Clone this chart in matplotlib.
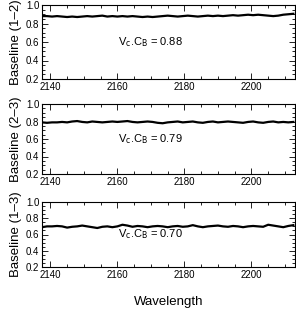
import matplotlib
matplotlib.use("Agg")
import matplotlib.pyplot as plt
import numpy as np
from matplotlib.ticker import MultipleLocator

plt.rcParams['font.family'] = ['Liberation Sans', 'DejaVu Sans']

# wavelength grid and the three baseline visibilities
wavelength = np.arange(2137.5, 2213.6, 1.5)

vis_12 = [0.88, 0.88, 0.875, 0.88, 0.875, 0.87, 0.875, 0.87, 0.875, 0.88,
          0.875, 0.88, 0.885, 0.875, 0.88, 0.875, 0.88, 0.875, 0.88, 0.875,
          0.87, 0.875, 0.87, 0.875, 0.88, 0.885, 0.88, 0.875, 0.88, 0.885,
          0.88, 0.875, 0.88, 0.885, 0.88, 0.885, 0.88, 0.885, 0.89, 0.885,
          0.89, 0.895, 0.89, 0.895, 0.89, 0.885, 0.88, 0.885, 0.895, 0.9, 0.905]

vis_23 = [0.79, 0.785, 0.79, 0.79, 0.795, 0.79, 0.8, 0.805, 0.795, 0.79,
          0.8, 0.795, 0.79, 0.795, 0.8, 0.795, 0.8, 0.805, 0.795, 0.79,
          0.795, 0.8, 0.795, 0.785, 0.78, 0.79, 0.795, 0.8, 0.79, 0.795,
          0.8, 0.79, 0.785, 0.795, 0.8, 0.79, 0.795, 0.8, 0.795, 0.79,
          0.785, 0.795, 0.8, 0.79, 0.785, 0.795, 0.8, 0.79, 0.795, 0.79, 0.795]

vis_13 = [0.69, 0.7, 0.7, 0.705, 0.7, 0.685, 0.695, 0.7, 0.71, 0.7,
          0.69, 0.68, 0.695, 0.7, 0.69, 0.7, 0.72, 0.71, 0.695, 0.705,
          0.7, 0.69, 0.7, 0.705, 0.7, 0.69, 0.7, 0.705, 0.695, 0.7,
          0.715, 0.7, 0.69, 0.7, 0.705, 0.71, 0.7, 0.695, 0.705, 0.7,
          0.69, 0.7, 0.705, 0.7, 0.695, 0.72, 0.71, 0.7, 0.69, 0.705, 0.715]

panels = [("Baseline (1\u20132)", vis_12, "0.88"),
          ("Baseline (2\u20133)", vis_23, "0.79"),
          ("Baseline (1\u20133)", vis_13, "0.70")]

# axes boxes in pixels (top, bottom) of a 296x310 canvas
boxes = [(5, 79), (104, 174), (202, 267)]

fig = plt.figure(figsize=(2.96, 3.10), dpi=100)

for (label, vis, vc), (top, bot) in zip(panels, boxes):
    ax = fig.add_axes([42 / 296, (310 - bot) / 310, 253 / 296, (bot - top) / 310])
    ax.plot(wavelength, vis, color='black', lw=1.6)
    ax.set_xlim(2137.5, 2213)
    ax.set_ylim(0.2, 1.0)
    ax.set_yticks([0.2, 0.4, 0.6, 0.8, 1.0])
    ax.set_xticks([2140, 2160, 2180, 2200])
    ax.xaxis.set_minor_locator(MultipleLocator(5))
    ax.yaxis.set_minor_locator(MultipleLocator(0.05))
    ax.tick_params(which='both', direction='in', top=True, right=True,
                   labelsize=7, pad=2, width=0.6)
    ax.tick_params(which='major', length=4)
    ax.tick_params(which='minor', length=2)
    for s in ax.spines.values():
        s.set_linewidth(0.8)
    ax.set_ylabel(label, fontsize=9.5, labelpad=3)
    ax.text(0.43, 0.5, r"V$_\mathrm{c}$.C$_\mathrm{B}$ = " + vc,
            transform=ax.transAxes, fontsize=8, ha='center', va='center')

fig.text(0.57, 0.025, "Wavelength", fontsize=9.5, ha='center', va='center')

fig.savefig("out.png", dpi=100)
